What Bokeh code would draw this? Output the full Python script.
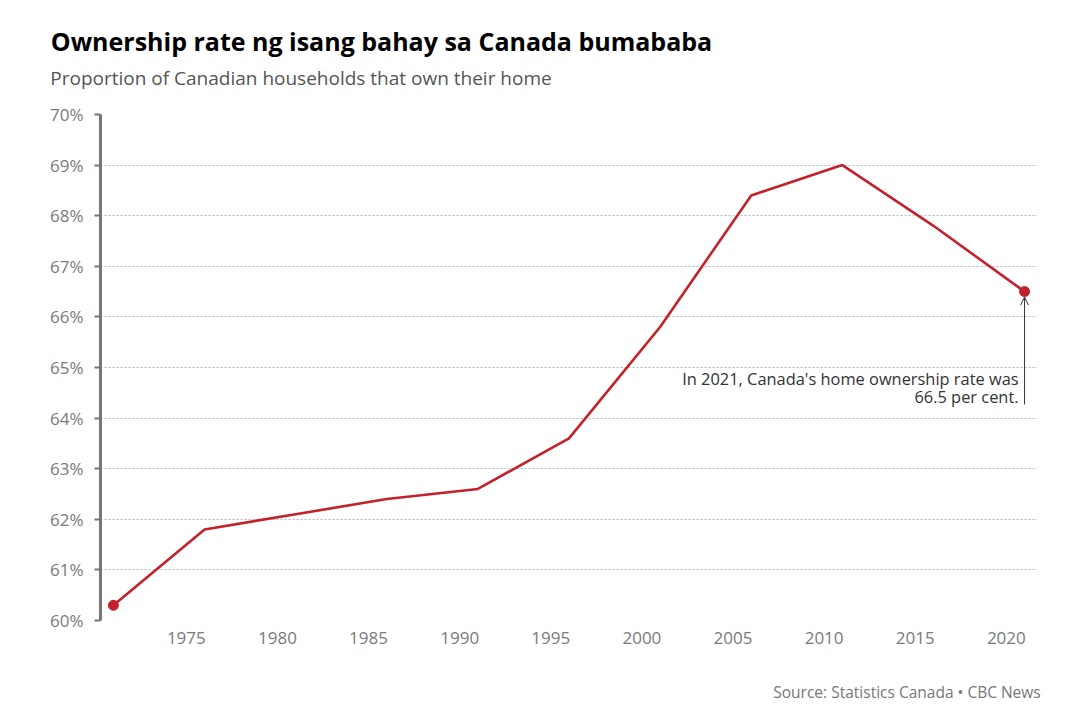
from bokeh.plotting import figure
from bokeh.models import (Range1d, FixedTicker, PrintfTickFormatter, Label, Arrow, OpenHead,
                          ColumnDataSource, LinearAxis)
from bokeh.embed import file_html
from bokeh.resources import INLINE

years = [1971, 1976, 1981, 1986, 1991, 1996, 2001, 2006, 2011, 2016, 2021]
rates = [60.3, 61.8, 62.1, 62.4, 62.6, 63.6, 65.8, 68.4, 69.0, 67.8, 66.5]
x_ticks = [1975, 1980, 1985, 1990, 1995, 2000, 2005, 2010, 2015, 2020]
y_ticks = [60, 61, 62, 63, 64, 65, 66, 67, 68, 69, 70]

title_text = "Ownership rate ng isang bahay sa Canada bumababa"
subtitle_text = "Proportion of Canadian households that own their home"
note_line1 = "In 2021, Canada's home ownership rate was"
note_line2 = "66.5 per cent."
source_text = "Source: Statistics Canada \u2022 CBC News"

FONT = "Open Sans"
RED = "#c4212b"
W, H = 1084, 710
LEFT, RIGHT, TOP, BOTTOM = 100, 47, 114, 90
X0, X1 = 1970.29, 2021.71
FRAME_W = W - LEFT - RIGHT


def px_to_x(px):
    # canvas pixel -> data x, for centring header/footer texts
    return X0 + (px - LEFT) / FRAME_W * (X1 - X0)


p = figure(width=W, height=H, output_backend="svg", toolbar_location=None,
           x_range=Range1d(X0, X1), y_range=Range1d(60, 70),
           min_border_left=LEFT, min_border_right=RIGHT, min_border_top=TOP, min_border_bottom=BOTTOM)
p.title = None
p.outline_line_color = None
p.background_fill_color = "white"
p.border_fill_color = "white"

# grid
p.xgrid.grid_line_color = None
p.ygrid.ticker = FixedTicker(ticks=y_ticks)
p.ygrid.grid_line_color = "#b0bac2"
p.ygrid.grid_line_dash = "2 2"
p.ygrid.grid_line_width = 1

# y axis
p.yaxis.ticker = FixedTicker(ticks=y_ticks)
p.yaxis.formatter = PrintfTickFormatter(format="%d%%")
p.yaxis.axis_line_color = "#777777"
p.yaxis.axis_line_width = 3
p.yaxis.major_tick_line_color = "#777777"
p.yaxis.major_tick_line_width = 2
p.yaxis.major_tick_out = 6
p.yaxis.major_tick_in = 0
p.yaxis.minor_tick_line_color = None
p.yaxis.major_label_text_font = FONT
p.yaxis.major_label_text_font_size = "17px"
p.yaxis.major_label_text_color = "#7a7a7a"
p.yaxis.major_label_standoff = 11

# x axis
p.xaxis.ticker = FixedTicker(ticks=x_ticks)
p.xaxis.axis_line_color = None
p.xaxis.major_tick_line_color = None
p.xaxis.minor_tick_line_color = None
p.xaxis.major_label_text_font = FONT
p.xaxis.major_label_text_font_size = "17px"
p.xaxis.major_label_text_color = "#7a7a7a"
p.xaxis.major_label_standoff = 5

src = ColumnDataSource(dict(x=years, y=rates))
p.line("x", "y", source=src, line_color=RED, line_width=2.6)
ends = ColumnDataSource(dict(x=[years[0], years[-1]], y=[rates[0], rates[-1]]))
p.scatter("x", "y", source=ends, size=10, fill_color=RED, line_color=RED)

# annotation
p.add_layout(Label(x=years[-1], y=rates[-1] - 1.72, text=note_line1, x_offset=-6,
                   text_align="right", text_baseline="middle", text_font=FONT,
                   text_font_size="16.4px", text_color="#333333"))
p.add_layout(Label(x=years[-1], y=rates[-1] - 2.08, text=note_line2, x_offset=-6,
                   text_align="right", text_baseline="middle", text_font=FONT,
                   text_font_size="16.4px", text_color="#333333"))
p.add_layout(Arrow(x_start=years[-1], y_start=rates[-1] - 2.23, x_end=years[-1], y_end=rates[-1] - 0.11,
                   line_color="#333333", line_width=1,
                   end=OpenHead(size=8, line_color="#333333", line_width=1)))


def text_axis(text, center_px, size, color, style, standoff, side):
    xc = px_to_x(center_px)
    ax = LinearAxis(ticker=FixedTicker(ticks=[xc]), major_label_overrides={xc: text},
                    axis_line_color=None, major_tick_line_color=None, minor_tick_line_color=None,
                    major_tick_in=0, major_tick_out=0, minor_tick_in=0, minor_tick_out=0,
                    major_label_standoff=standoff, major_label_text_font=FONT,
                    major_label_text_font_size=size, major_label_text_color=color,
                    major_label_text_font_style=style)
    p.add_layout(ax, side)


# header (nearest the frame first) and footer
text_axis(subtitle_text, 300.5, "19px", "#555555", "normal", 24, "above")
text_axis(title_text, 381, "25px", "#000000", "bold", 4, "above")
text_axis(source_text, 906.5, "15.5px", "#777777", "normal", 34, "below")

open("out.html", "w").write(file_html(p, INLINE))
